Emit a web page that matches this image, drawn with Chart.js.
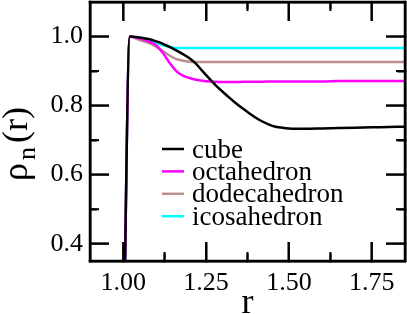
<!DOCTYPE html>
<html><head><meta charset="utf-8">
<script src="https://cdn.jsdelivr.net/npm/chart.js@4.4.0/dist/chart.umd.min.js"></script>
<style>html,body{margin:0;padding:0;background:#fff;overflow:hidden}#wrap{width:407px;height:314px;position:relative}</style>
</head><body><div id="wrap"><canvas id="c" width="407" height="314"></canvas></div>
<script>
// ---- data ----
const r            = [1.00, 1.02, 1.05, 1.08, 1.10, 1.12, 1.14, 1.16, 1.18, 1.20, 1.22, 1.24, 1.26, 1.28, 1.30, 1.32, 1.34, 1.36, 1.38, 1.40, 1.42, 1.44, 1.46, 1.48, 1.50, 1.55, 1.60, 1.65, 1.70, 1.75, 1.80, 1.85];
const cube         = [0.00, 1.000, 0.997, 0.992, 0.986, 0.979, 0.970, 0.960, 0.949, 0.937, 0.921, 0.899, 0.878, 0.858, 0.840, 0.823, 0.807, 0.792, 0.778, 0.765, 0.754, 0.745, 0.739, 0.736, 0.734, 0.733, 0.734, 0.735, 0.736, 0.737, 0.738, 0.739];
const octahedron   = [0.00, 1.000, 0.994, 0.984, 0.974, 0.952, 0.924, 0.900, 0.887, 0.880, 0.875, 0.872, 0.870, 0.869, 0.868, 0.868, 0.868, 0.869, 0.869, 0.869, 0.869, 0.870, 0.870, 0.870, 0.870, 0.870, 0.870, 0.871, 0.871, 0.871, 0.871, 0.871];
const dodecahedron = [0.00, 1.000, 0.990, 0.980, 0.970, 0.958, 0.945, 0.935, 0.930, 0.927, 0.926, 0.926, 0.926, 0.926, 0.926, 0.926, 0.926, 0.926, 0.926, 0.926, 0.926, 0.926, 0.926, 0.926, 0.926, 0.926, 0.926, 0.926, 0.926, 0.926, 0.926, 0.926];
const icosahedron  = [0.00, 1.000, 0.992, 0.985, 0.980, 0.975, 0.970, 0.967, 0.967, 0.967, 0.967, 0.967, 0.967, 0.967, 0.967, 0.967, 0.967, 0.967, 0.967, 0.967, 0.967, 0.967, 0.967, 0.967, 0.967, 0.967, 0.967, 0.967, 0.967, 0.967, 0.967, 0.967];
const seriesNames  = ['cube', 'octahedron', 'dodecahedron', 'icosahedron'];
const seriesColors = ['#000000', '#ff00ff', '#bc8f8f', '#00ffff'];
const xTickValues  = [1.00, 1.25, 1.50, 1.75];
const xTickLabels  = ['1.00', '1.25', '1.50', '1.75'];
const xMinorTicks  = [1.125, 1.375, 1.625];
const yTickValues  = [0.4, 0.6, 0.8, 1.0];
const yTickLabels  = ['0.4', '0.6', '0.8', '1.0'];
const yMinorTicks  = [0.5, 0.7, 0.9];
const xTitle = 'r';
const yTitleParts = ['\u03c1', 'n', '(r)'];

const seriesValues = [cube, octahedron, dodecahedron, icosahedron];
const SERIF = '"Liberation Serif", "Times New Roman", serif';
const MAJOR = 19, MINOR = 9;

const datasets = seriesNames.map((name, i) => ({
  label: name,
  data: r.map((x, j) => ({x: x, y: seriesValues[i][j]})),
  borderColor: seriesColors[i],
  backgroundColor: seriesColors[i],
  borderWidth: 2.5,
  pointRadius: 0,
  fill: false,
  cubicInterpolationMode: 'monotone'
}));

const xAll = xTickValues.concat(xMinorTicks).sort((p, q) => p - q);
const yAll = yTickValues.concat(yMinorTicks).sort((p, q) => p - q);

function tickGrid(minorList, startsInside) {
  return {
    display: true, drawOnChartArea: false, drawTicks: true,
    tickLength: -MAJOR, tickWidth: 2, tickColor: '#000',
    tickBorderDash: c => (c.tick && minorList.includes(c.tick.value)) ? [MINOR, MAJOR - MINOR + 2] : [],
    tickBorderDashOffset: c => (startsInside && c.tick && minorList.includes(c.tick.value)) ? MINOR : 0
  };
}
const border = {display: true, color: '#000', width: 2.5};

const annotPlugin = {
  id: 'annot',
  afterDraw(chart) {
    const ctx = chart.ctx, a = chart.chartArea;
    const xs = chart.scales.x, ys = chart.scales.y;
    ctx.save();
    // frame and inward ticks (backup drawing on the same positions as the scales)
    ctx.fillStyle = '#000000';
    const L = a.left, T = a.top, R = a.right, B = a.bottom;
    ctx.fillRect(L - 1.25, T - 1.25, R - L + 2.5, 2.5);
    ctx.fillRect(L - 1.25, B - 1.25, R - L + 2.5, 2.5);
    ctx.fillRect(L - 1.25, T - 1.25, 2.5, B - T + 2.5);
    ctx.fillRect(R - 1.25, T - 1.25, 2.5, B - T + 2.5);
    for (let k = 0; k < xAll.length; k++) {
      const len = xMinorTicks.includes(xAll[k]) ? MINOR : MAJOR;
      const px = xs.getPixelForValue(xAll[k]);
      ctx.fillRect(px - 1, B - len, 2, len);
      ctx.fillRect(px - 1, T, 2, len);
    }
    for (let k = 0; k < yAll.length; k++) {
      const len = yMinorTicks.includes(yAll[k]) ? MINOR : MAJOR;
      const py = ys.getPixelForValue(yAll[k]);
      ctx.fillRect(L, py - 1, len, 2);
      ctx.fillRect(R - len, py - 1, len, 2);
    }
    // legend
    const lx0 = 162, lx1 = 184, tx = 192, y0 = 149, dy = 22.4;
    ctx.font = '27px ' + SERIF;
    ctx.textAlign = 'left';
    ctx.textBaseline = 'alphabetic';
    for (let i = 0; i < chart.data.datasets.length; i++) {
      const ds = chart.data.datasets[i];
      const y = y0 + i * dy;
      ctx.fillStyle = ds.borderColor;
      ctx.fillRect(lx0, y - 1.25, lx1 - lx0, 2.5);
      ctx.fillStyle = '#000000';
      ctx.fillText(ds.label, tx, y + 8.5);
    }
    // y-axis title with subscript
    ctx.translate(27, 181);
    ctx.rotate(-Math.PI / 2);
    ctx.fillStyle = '#000000';
    let xp = 0;
    ctx.font = '36px ' + SERIF;
    ctx.fillText(yTitleParts[0], xp, 0); xp += ctx.measureText(yTitleParts[0]).width + 3;
    ctx.font = '26px ' + SERIF;
    ctx.fillText(yTitleParts[1], xp, 8); xp += ctx.measureText(yTitleParts[1]).width + 4;
    ctx.font = '36px ' + SERIF;
    ctx.fillText(yTitleParts[2], xp, 0);
    ctx.restore();
  }
};

new Chart(document.getElementById('c'), {
  type: 'line',
  data: {datasets: datasets},
  options: {
    responsive: false,
    animation: false,
    devicePixelRatio: 1,
    layout: {padding: {left: 0, right: 2, top: 2, bottom: 0}},
    plugins: {legend: {display: false}, tooltip: {enabled: false}},
    scales: {
      x: {
        type: 'linear', position: 'bottom', min: 0.9, max: 1.85,
        afterBuildTicks: s => { s.ticks = xAll.map(v => ({value: v})); },
        afterFit: s => { s.height = 53; s.paddingLeft = 0; s.paddingRight = 0; },
        grid: tickGrid(xMinorTicks, false),
        border: border,
        ticks: {
          padding: 7 + MAJOR, color: '#000', maxRotation: 0, autoSkip: false,
          font: {family: SERIF, size: 26},
          callback: (v) => { const k = xTickValues.indexOf(v); return k >= 0 ? xTickLabels[k] : ''; }
        },
        title: {display: true, text: xTitle, color: '#000',
          font: {family: SERIF, size: 36, lineHeight: 0.6}, padding: {top: 1, bottom: 0}}
      },
      x2: {
        type: 'linear', position: 'top', min: 0.9, max: 1.85,
        afterBuildTicks: s => { s.ticks = xAll.map(v => ({value: v})); },
        afterFit: s => { s.height = 0; s.paddingLeft = 0; s.paddingRight = 0; },
        grid: tickGrid(xMinorTicks, true),
        border: border,
        ticks: {display: false, autoSkip: false}
      },
      y: {
        type: 'linear', position: 'left', min: 0.35, max: 1.1,
        afterBuildTicks: s => { s.ticks = yAll.map(v => ({value: v})); },
        afterFit: s => { s.width = 90; s.paddingTop = 0; s.paddingBottom = 0; },
        grid: tickGrid(yMinorTicks, true),
        border: border,
        ticks: {
          padding: 7 + MAJOR, color: '#000', autoSkip: false,
          font: {family: SERIF, size: 26},
          callback: (v) => { const k = yTickValues.indexOf(v); return k >= 0 ? yTickLabels[k] : ''; }
        }
      },
      y2: {
        type: 'linear', position: 'right', min: 0.35, max: 1.1,
        afterBuildTicks: s => { s.ticks = yAll.map(v => ({value: v})); },
        afterFit: s => { s.width = 0; s.paddingTop = 0; s.paddingBottom = 0; },
        grid: tickGrid(yMinorTicks, false),
        border: border,
        ticks: {display: false, autoSkip: false}
      }
    }
  },
  plugins: [annotPlugin]
});
</script></body></html>
